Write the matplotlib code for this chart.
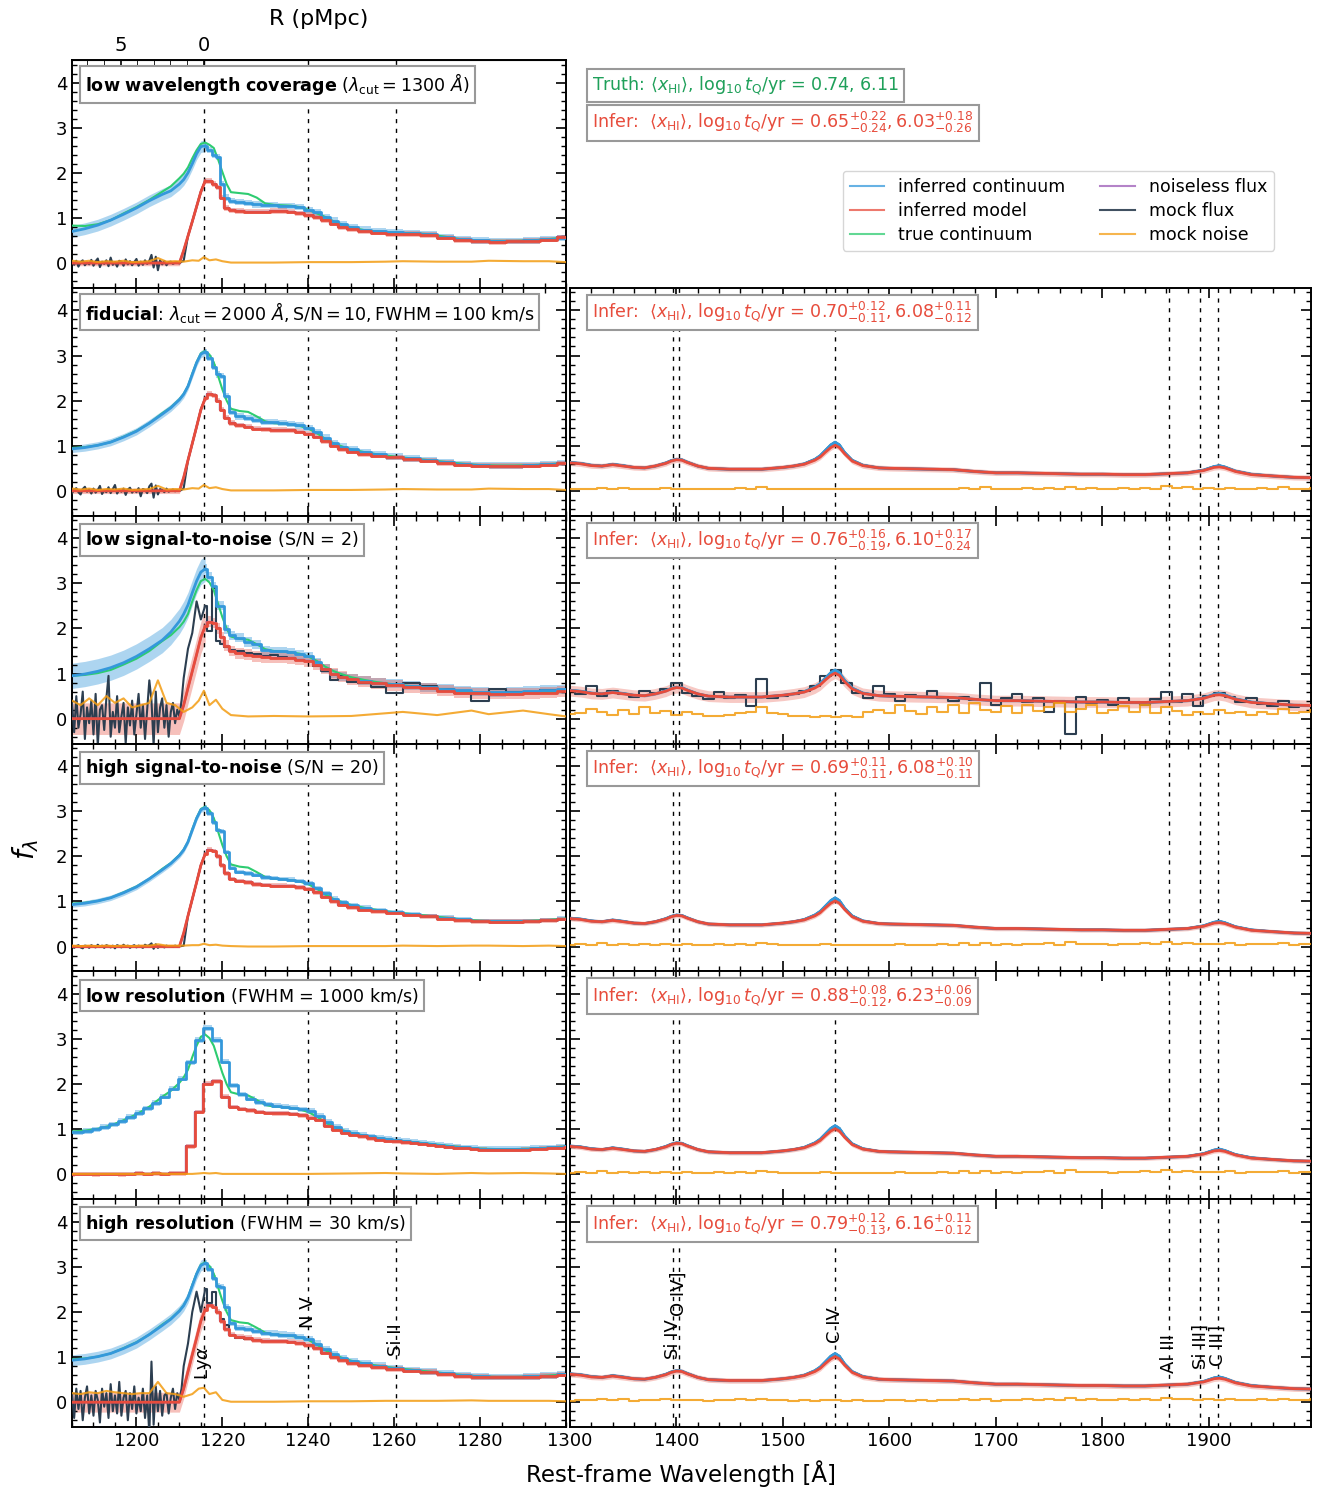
import numpy as np
import matplotlib
matplotlib.use('Agg')
import matplotlib.pyplot as plt
from matplotlib.lines import Line2D
from matplotlib.ticker import MultipleLocator, FixedLocator

# ---------------------------------------------------------------- colours
C_INF = '#3498db'      # inferred continuum
C_MOD = '#e74c3c'      # inferred model
C_TRUE = '#2ecc71'     # true continuum
C_NL = '#9b59b6'       # noiseless flux
C_MOCK = '#2c3e50'     # mock flux
C_NOISE = '#f39c12'    # mock noise
C_TRUTH_TXT = '#1fa05a'

# ---------------------------------------------------------------- data: left (Lya) side
wl_L = [1185, 1188, 1191, 1194, 1197, 1200, 1203, 1206, 1208, 1210,
        1211, 1212, 1213, 1214, 1215, 1216, 1217, 1218, 1219, 1220, 1221, 1222,
        1224, 1226, 1228, 1230, 1232, 1234, 1236, 1238, 1240, 1242, 1244, 1246, 1248, 1250,
        1253, 1256,
        1260, 1264, 1268, 1272, 1276, 1280, 1284, 1288, 1292, 1296, 1300]

# true quasar continuum, rows 2-6
true_cont_L = [0.95, 0.97, 1.01, 1.08, 1.20, 1.33, 1.50, 1.72, 1.85, 2.03,
               2.15, 2.32, 2.60, 2.85, 3.05, 3.10, 3.02, 2.85, 2.55, 2.25, 2.00, 1.82,
               1.77, 1.75, 1.65, 1.54, 1.50, 1.49, 1.47, 1.44, 1.38, 1.28, 1.15, 1.05, 0.98, 0.92,
               0.86, 0.81,
               0.76, 0.72, 0.68, 0.64, 0.60, 0.57, 0.56, 0.56, 0.57, 0.59, 0.62]
# inferred continuum, rows 2, 4, 6
inf_cont_L = [0.93, 0.96, 1.01, 1.08, 1.19, 1.32, 1.50, 1.70, 1.84, 2.02,
              2.14, 2.32, 2.58, 2.84, 3.03, 3.08, 2.95, 2.75, 2.58, 2.55, 2.10, 1.75,
              1.65, 1.62, 1.58, 1.53, 1.52, 1.50, 1.48, 1.45, 1.40, 1.30, 1.18, 1.06, 0.98, 0.92,
              0.86, 0.81,
              0.76, 0.72, 0.68, 0.64, 0.60, 0.57, 0.56, 0.56, 0.57, 0.59, 0.62]
# inferred model (= continuum x transmission), rows 2, 3, 4, 6
model_L = [0, 0, 0, 0, 0, 0, 0, 0, 0, 0,
           0.30, 0.68, 1.05, 1.42, 1.80, 2.05, 2.15, 2.12, 2.00, 1.80, 1.62, 1.50,
           1.45, 1.42, 1.38, 1.36, 1.35, 1.35, 1.34, 1.31, 1.27, 1.20, 1.10, 1.00, 0.93, 0.87,
           0.82, 0.78,
           0.74, 0.70, 0.67, 0.62, 0.58, 0.56, 0.55, 0.55, 0.56, 0.58, 0.61]

# row 1 (different mock quasar)
true_cont_r1 = [0.83, 0.82, 0.86, 0.95, 1.10, 1.24, 1.40, 1.58, 1.70, 1.88,
                1.98, 2.12, 2.32, 2.50, 2.64, 2.67, 2.62, 2.55, 2.30, 2.02, 1.75, 1.57,
                1.55, 1.53, 1.45, 1.32, 1.29, 1.28, 1.27, 1.24, 1.18, 1.10, 1.02, 0.92, 0.85, 0.79,
                0.73, 0.70,
                0.67, 0.66, 0.64, 0.58, 0.52, 0.49, 0.49, 0.49, 0.50, 0.53, 0.57]
inf_cont_r1 = [0.70, 0.76, 0.84, 0.95, 1.08, 1.22, 1.38, 1.52, 1.60, 1.75,
               1.85, 2.00, 2.20, 2.42, 2.58, 2.60, 2.50, 2.40, 2.35, 1.75, 1.45, 1.38,
               1.35, 1.33, 1.30, 1.28, 1.28, 1.27, 1.27, 1.24, 1.18, 1.12, 1.02, 0.94, 0.86, 0.80,
               0.74, 0.71,
               0.68, 0.66, 0.64, 0.58, 0.53, 0.50, 0.49, 0.49, 0.50, 0.53, 0.56]
model_r1 = [0, 0, 0, 0, 0, 0, 0, 0, 0, 0,
            0.28, 0.60, 0.92, 1.25, 1.58, 1.82, 1.82, 1.75, 1.68, 1.45, 1.22, 1.17,
            1.15, 1.14, 1.14, 1.14, 1.15, 1.15, 1.14, 1.10, 1.06, 1.02, 0.95, 0.87, 0.80, 0.75,
            0.70, 0.67,
            0.64, 0.64, 0.62, 0.56, 0.51, 0.48, 0.47, 0.48, 0.49, 0.52, 0.57]

# row 3 (S/N = 2) inferred continuum
inf_cont_r3 = [0.95, 0.99, 1.05, 1.13, 1.24, 1.38, 1.55, 1.74, 1.92, 2.16,
               2.32, 2.52, 2.79, 3.05, 3.25, 3.32, 3.15, 2.94, 2.50, 2.50, 1.98, 1.85,
               1.79, 1.70, 1.65, 1.52, 1.49, 1.49, 1.47, 1.43, 1.38, 1.25, 1.11, 1.00, 0.93, 0.88,
               0.84, 0.80,
               0.77, 0.73, 0.70, 0.66, 0.63, 0.60, 0.59, 0.60, 0.62, 0.64, 0.65]

# row 5 (low resolution) is binned on a coarse pixel grid
wl_lowres = np.arange(1184.6, 1301.0, 2.0)
inf_cont_r5 = [0.93, 0.94, 0.96, 1.00, 1.05, 1.11, 1.18, 1.27, 1.36, 1.46,
               1.58, 1.72, 1.90, 2.12, 2.48, 2.98, 3.24, 2.98, 2.50, 1.97,
               1.77, 1.68, 1.60, 1.55, 1.52, 1.50, 1.48, 1.44, 1.40, 1.30,
               1.16, 1.05, 0.97, 0.92, 0.88, 0.84, 0.81, 0.78, 0.76, 0.74,
               0.72, 0.70, 0.68, 0.66, 0.63, 0.61, 0.60, 0.58, 0.57, 0.56,
               0.56, 0.56, 0.56, 0.57, 0.58, 0.59, 0.60, 0.61, 0.62]
model_r5 = [0.00, 0.01, 0.01, 0.00, 0.01, 0.01, 0.00, 0.01, 0.02, 0.01,
            0.02, 0.01, 0.02, 0.02, 0.62, 1.38, 2.01, 2.06, 1.72, 1.49,
            1.45, 1.42, 1.38, 1.36, 1.35, 1.35, 1.34, 1.31, 1.26, 1.20,
            1.08, 0.98, 0.92, 0.88, 0.84, 0.80, 0.77, 0.75, 0.73, 0.71,
            0.69, 0.67, 0.65, 0.63, 0.61, 0.59, 0.58, 0.56, 0.55, 0.54,
            0.54, 0.54, 0.54, 0.55, 0.56, 0.57, 0.58, 0.59, 0.60]

# mock flux blueward of Lya (0.5 A pixels, 1185-1211 A)
wl_fine = np.arange(1185.0, 1211.1, 0.5)
mock_blue_r1 = [0.03, -0.04, 0.05, -0.08, 0.02, 0.06, -0.05, 0.01, -0.03, 0.07,
                -0.06, 0.04, 0.10, -0.09, 0.03, -0.02, 0.06, -0.07, 0.12, -0.04,
                0.02, -0.08, 0.05, 0.03, -0.06, 0.08, -0.03, 0.04, -0.05, 0.02,
                0.09, -0.06, 0.03, -0.04, 0.06, -0.02, 0.05, 0.18, -0.10, 0.14,
                -0.16, 0.06, -0.03, 0.04, -0.05, 0.02, 0.03, -0.02, 0.01, 0.02,
                -0.01, 0.03, 0.05]
mock_blue_r2 = [-0.05, 0.02, 0.06, -0.03, -0.08, 0.04, 0.09, -0.02, 0.03, -0.06,
                0.05, -0.04, 0.02, 0.11, -0.07, 0.01, -0.03, 0.08, -0.05, 0.04,
                0.13, -0.06, 0.02, -0.02, 0.05, -0.09, 0.03, 0.07, -0.04, 0.02,
                -0.03, 0.06, -0.12, 0.04, 0.02, -0.05, 0.10, 0.16, -0.15, 0.12,
                -0.08, 0.04, 0.02, -0.03, 0.05, -0.02, 0.01, 0.03, -0.01, 0.02,
                0.00, 0.02, 0.06]
mock_blue_r3 = [0.35, -0.30, 0.50, -0.20, 0.10, 0.60, -0.45, 0.25, -0.10, 0.40,
                -0.35, 0.55, -0.60, 0.20, 0.30, -0.25, 0.45, 0.95, -0.40, 0.15,
                -0.20, 0.50, -0.30, 0.05, 0.35, -0.55, 0.25, -0.15, 0.40, -0.35,
                0.10, 0.55, -0.20, 0.30, -0.45, 0.20, 0.85, 0.40, -0.60, 0.60,
                -0.30, 0.25, 0.45, -0.20, 0.30, -0.40, 0.15, 0.35, -0.10, 0.20,
                0.05, 0.40, 0.90]
mock_blue_r4 = [0.02, -0.03, 0.01, 0.03, -0.02, -0.04, 0.02, 0.01, -0.03, 0.03,
                0.00, -0.02, 0.04, -0.01, 0.02, -0.03, 0.03, 0.01, -0.02, 0.02,
                -0.04, 0.03, 0.01, -0.02, 0.04, -0.01, 0.02, -0.03, 0.01, 0.03,
                -0.02, 0.02, 0.00, -0.03, 0.04, 0.01, 0.03, 0.07, -0.05, 0.05,
                -0.03, 0.02, 0.01, -0.02, 0.02, 0.00, 0.01, -0.01, 0.02, 0.00,
                0.01, 0.01, 0.02]
mock_blue_r6 = [0.20, -0.35, 0.30, -0.15, 0.25, -0.40, 0.10, 0.35, -0.25, 0.15,
                -0.30, 0.25, 0.05, -0.45, 0.30, -0.10, 0.20, -0.35, 0.40, -0.20,
                0.15, -0.25, 0.45, -0.30, 0.10, 0.25, -0.40, 0.20, -0.15, 0.35,
                -0.25, 0.10, -0.20, 0.30, -0.35, 0.15, -0.70, 0.90, -0.50, 0.35,
                -0.20, 0.25, -0.30, 0.15, 0.20, -0.25, 0.10, 0.30, -0.15, 0.20,
                0.05, 0.30, 0.80]
# noisy mock flux redward (wl_L from 1212 A) for the noisiest rows
mock_red_r3 = [1.55, 1.90, 2.60, 2.20, 2.50, 1.95, 2.90, 1.72, 1.65, 1.60, 1.52,
               1.50, 1.45, 1.43, 1.40, 1.42, 1.36, 1.35, 1.30, 1.28, 1.17, 1.05, 0.85, 0.95, 0.82,
               0.78, 0.70,
               0.56, 0.80, 0.72, 0.66, 0.56, 0.40, 0.66, 0.60, 0.57, 0.63, 0.64]
mock_red_r6 = [1.30, 2.00, 2.45, 2.00, 2.50, 2.20, 2.45, 2.00, 1.85, 1.70, 1.50,
               1.43, 1.40, 1.38, 1.36, 1.36, 1.35, 1.34, 1.31, 1.27, 1.20, 1.10, 1.00, 0.93, 0.87,
               0.82, 0.78,
               0.74, 0.70, 0.67, 0.62, 0.58, 0.56, 0.55, 0.55, 0.56, 0.58, 0.61]

# mock noise (1 sigma) on the left side
wl_N = [1185, 1187, 1189, 1191, 1193, 1195, 1197, 1199, 1201, 1203,
        1205, 1207, 1209, 1211, 1213, 1214.5, 1215.7, 1217, 1218.5, 1220,
        1222, 1226, 1232, 1240, 1250, 1258, 1262, 1270, 1278, 1282,
        1290, 1296, 1300]
noise_sn10 = [0.05, 0.03, 0.05, 0.02, 0.04, 0.03, 0.05, 0.02, 0.03, 0.04,
              0.11, 0.03, 0.04, 0.03, 0.06, 0.05, 0.13, 0.06, 0.08, 0.04,
              0.01, 0.01, 0.01, 0.02, 0.02, 0.03, 0.04, 0.03, 0.03, 0.05,
              0.04, 0.04, 0.02]
noise_sn2 = [0.40, 0.30, 0.45, 0.30, 0.50, 0.35, 0.45, 0.25, 0.30, 0.35,
             0.85, 0.35, 0.30, 0.15, 0.25, 0.40, 0.62, 0.30, 0.42, 0.22,
             0.08, 0.05, 0.06, 0.05, 0.06, 0.12, 0.15, 0.08, 0.18, 0.10,
             0.18, 0.10, 0.05]
noise_sn20 = [0.02, 0.01, 0.02, 0.01, 0.02, 0.01, 0.02, 0.01, 0.02, 0.02,
              0.05, 0.02, 0.02, 0.02, 0.03, 0.03, 0.06, 0.03, 0.04, 0.02,
              0.01, 0.00, 0.00, 0.01, 0.01, 0.01, 0.02, 0.01, 0.02, 0.02,
              0.01, 0.02, 0.01]
noise_lowres = [0.01, 0.01, 0.01, 0.01, 0.01, 0.01, 0.01, 0.01, 0.01, 0.01,
                0.02, 0.01, 0.01, 0.01, 0.01, 0.02, 0.03, 0.02, 0.03, 0.01,
                0.01, 0.01, 0.01, 0.01, 0.02, 0.03, 0.02, 0.01, 0.03, 0.02,
                0.03, 0.02, 0.01]
noise_hires = [0.20, 0.18, 0.22, 0.20, 0.25, 0.22, 0.20, 0.18, 0.20, 0.20,
               0.45, 0.20, 0.18, 0.12, 0.18, 0.30, 0.32, 0.18, 0.22, 0.05,
               0.01, 0.01, 0.01, 0.02, 0.02, 0.03, 0.03, 0.03, 0.04, 0.03,
               0.03, 0.03, 0.02]

# ---------------------------------------------------------------- data: right (metal lines) side
wl_R = [1300, 1310, 1320, 1330, 1340, 1350, 1360, 1370, 1380, 1390,
        1395, 1400, 1405, 1410, 1420, 1430, 1440, 1450, 1460, 1470,
        1480, 1490, 1500, 1510, 1520, 1530, 1535, 1540, 1545, 1549,
        1553, 1558, 1565, 1575, 1590, 1600, 1620, 1640, 1660, 1680,
        1700, 1720, 1740, 1760, 1780, 1800, 1820, 1840, 1860, 1880,
        1895, 1905, 1910, 1915, 1925, 1940, 1960, 1980, 2000]
cont_R = [0.63, 0.61, 0.57, 0.55, 0.59, 0.56, 0.52, 0.51, 0.55, 0.62,
          0.67, 0.70, 0.69, 0.64, 0.55, 0.50, 0.49, 0.48, 0.48, 0.48,
          0.48, 0.50, 0.52, 0.55, 0.60, 0.70, 0.78, 0.90, 1.02, 1.08,
          1.02, 0.85, 0.68, 0.57, 0.51, 0.50, 0.49, 0.48, 0.47, 0.43,
          0.40, 0.40, 0.39, 0.38, 0.37, 0.37, 0.36, 0.36, 0.38, 0.40,
          0.46, 0.54, 0.56, 0.53, 0.44, 0.37, 0.33, 0.30, 0.29]
model_R = [0.62, 0.60, 0.56, 0.55, 0.58, 0.55, 0.52, 0.51, 0.55, 0.61,
           0.66, 0.69, 0.68, 0.63, 0.55, 0.50, 0.49, 0.48, 0.48, 0.48,
           0.48, 0.50, 0.52, 0.55, 0.59, 0.68, 0.75, 0.86, 0.96, 1.01,
           0.96, 0.82, 0.66, 0.56, 0.51, 0.50, 0.49, 0.48, 0.47, 0.43,
           0.40, 0.40, 0.39, 0.38, 0.37, 0.37, 0.36, 0.36, 0.38, 0.40,
           0.45, 0.52, 0.53, 0.51, 0.43, 0.36, 0.33, 0.30, 0.29]
wl_R10 = np.arange(1300, 2001, 10)
mock_R_r3 = [0.62, 0.55, 0.72, 0.50, 0.62, 0.55, 0.48, 0.62, 0.58, 0.66,
             0.78, 0.58, 0.50, 0.44, 0.60, 0.45, 0.52, 0.28, 0.88, 0.46,
             0.50, 0.55, 0.62, 0.72, 0.95, 1.08, 0.80, 0.58, 0.45, 0.72,
             0.55, 0.40, 0.52, 0.48, 0.62, 0.46, 0.40, 0.48, 0.42, 0.80,
             0.30, 0.45, 0.55, 0.38, 0.46, 0.15, 0.40, -0.35, 0.48, 0.35,
             0.42, 0.30, 0.45, 0.38, 0.30, 0.44, 0.60, 0.36, 0.55, 0.28,
             0.50, 0.56, 0.48, 0.38, 0.45, 0.32, 0.28, 0.40, 0.25, 0.30, 0.28]
noise_R = [0.03, 0.05, 0.04, 0.07, 0.04, 0.06, 0.03, 0.05, 0.04, 0.06,
           0.04, 0.05, 0.04, 0.03, 0.05, 0.04, 0.06, 0.04, 0.08, 0.05,
           0.04, 0.03, 0.04, 0.03, 0.05, 0.04, 0.03, 0.04, 0.03, 0.03,
           0.04, 0.05, 0.03, 0.04, 0.03, 0.05, 0.04, 0.07, 0.04, 0.08,
           0.03, 0.05, 0.04, 0.06, 0.05, 0.07, 0.04, 0.09, 0.05, 0.06,
           0.05, 0.04, 0.06, 0.05, 0.07, 0.05, 0.10, 0.06, 0.08, 0.05,
           0.06, 0.05, 0.07, 0.04, 0.05, 0.06, 0.05, 0.08, 0.04, 0.05, 0.06]
noise_R_r3 = [0.10, 0.12, 0.22, 0.15, 0.08, 0.20, 0.10, 0.25, 0.12, 0.18,
              0.08, 0.15, 0.10, 0.05, 0.06, 0.08, 0.12, 0.15, 0.25, 0.12,
              0.10, 0.06, 0.05, 0.04, 0.05, 0.04, 0.05, 0.03, 0.15, 0.20,
              0.12, 0.30, 0.18, 0.10, 0.25, 0.15, 0.30, 0.12, 0.35, 0.20,
              0.15, 0.28, 0.12, 0.30, 0.18, 0.25, 0.35, 0.15, 0.22, 0.30,
              0.12, 0.20, 0.28, 0.15, 0.30, 0.12, 0.25, 0.18, 0.08, 0.15,
              0.10, 0.20, 0.12, 0.15, 0.08, 0.14, 0.10, 0.22, 0.12, 0.15, 0.20]

# 1-sigma widths of the shaded posterior bands (blueward / redward of Lya)
cont_sig_blue = [0.13, 0.08, 0.28, 0.06, 0.06, 0.12]
cont_sig_red = [0.07, 0.07, 0.10, 0.05, 0.06, 0.07]
model_sig_blue = [0.06, 0.06, 0.35, 0.03, 0.02, 0.22]
model_sig_red = [0.06, 0.06, 0.12, 0.05, 0.05, 0.06]

# posterior summaries
truth_xhi, truth_tq = 0.74, 6.11
xhi_med = [0.65, 0.70, 0.76, 0.69, 0.88, 0.79]
xhi_up = [0.22, 0.12, 0.16, 0.11, 0.08, 0.12]
xhi_lo = [0.24, 0.11, 0.19, 0.11, 0.12, 0.13]
tq_med = [6.03, 6.08, 6.10, 6.08, 6.23, 6.16]
tq_up = [0.18, 0.11, 0.17, 0.10, 0.06, 0.11]
tq_lo = [0.26, 0.12, 0.24, 0.11, 0.09, 0.12]

row_labels = [
    r'$\mathbf{low\ wavelength\ coverage}$ ($\lambda_{\rm cut} = 1300\ Å$)',
    r'$\mathbf{fiducial}$: $\lambda_{\rm cut} = 2000\ Å, \mathrm{S/N} = 10, \mathrm{FWHM} = 100$ km/s',
    r'$\mathbf{low\ signal‐to‐noise}$ (S/N = 2)',
    r'$\mathbf{high\ signal‐to‐noise}$ (S/N = 20)',
    r'$\mathbf{low\ resolution}$ (FWHM = 1000 km/s)',
    r'$\mathbf{high\ resolution}$ (FWHM = 30 km/s)',
]

# emission lines
lines_L = [1215.67, 1240.0, 1260.42]
names_L = [r'Ly$\alpha$', 'N V', 'Si II']
lines_R = [1396.76, 1402.06, 1549.06, 1862.79, 1892.03, 1908.73]
names_R = ['Si IV', 'O IV]', 'C IV', 'Al III', 'Si III]', 'C III]']
label_y_L = [0.50, 1.65, 1.03]
label_y_R = [0.96, 1.92, 1.32, 0.65, 0.74, 0.80]

# per-row table built from the arrays above
rows = [
    dict(wl=wl_L, cont=inf_cont_r1, true=true_cont_r1, model=model_r1,
         mock_blue=mock_blue_r1, mock_red=model_r1[11:], noise=noise_sn10),
    dict(wl=wl_L, cont=inf_cont_L, true=true_cont_L, model=model_L,
         mock_blue=mock_blue_r2, mock_red=model_L[11:], noise=noise_sn10),
    dict(wl=wl_L, cont=inf_cont_r3, true=true_cont_L, model=model_L,
         mock_blue=mock_blue_r3, mock_red=mock_red_r3, noise=noise_sn2),
    dict(wl=wl_L, cont=inf_cont_L, true=true_cont_L, model=model_L,
         mock_blue=mock_blue_r4, mock_red=model_L[11:], noise=noise_sn20),
    dict(wl=wl_lowres, cont=inf_cont_r5, true=true_cont_L, model=model_r5,
         mock_blue=None, mock_red=None, noise=noise_lowres),
    dict(wl=wl_L, cont=inf_cont_L, true=true_cont_L, model=model_L,
         mock_blue=mock_blue_r6, mock_red=mock_red_r6, noise=noise_hires),
]

LYA = 1215.67
EDGE = 1216.0     # spectrum drawn as pixel steps redward of this
FS = 12.6


def split_line(ax, x, y, edge, **kw):
    x = np.asarray(x, float)
    y = np.asarray(y, float)
    b = x <= edge
    r = x >= edge
    if b.any():
        ax.plot(x[b], y[b], **kw)
    ax.plot(x[r], y[r], drawstyle='steps-mid', **kw)


def split_band(ax, x, y, sb, sr, edge, color, alpha):
    x = np.asarray(x, float)
    y = np.asarray(y, float)
    b = x <= edge
    r = x >= edge
    if b.any():
        ax.fill_between(x[b], y[b] - sb, y[b] + sb, color=color, alpha=alpha, lw=0)
    ax.fill_between(x[r], y[r] - sr, y[r] + sr, step='mid', color=color, alpha=alpha, lw=0)


def style_axis(ax):
    ax.set_ylim(-0.55, 4.5)
    ax.yaxis.set_major_locator(FixedLocator([0, 1, 2, 3, 4]))
    ax.yaxis.set_minor_locator(MultipleLocator(0.2))
    ax.tick_params(which='both', direction='in', top=True, right=True, labelsize=13)
    ax.tick_params(which='major', length=7, width=1.2)
    ax.tick_params(which='minor', length=3.5, width=1.0)
    for s in ax.spines.values():
        s.set_linewidth(1.4)


def infer_text(i):
    return (r'Infer:  $\langle x_{\rm HI}\rangle$, $\log_{10} t_{\rm Q}/{\rm yr}$ = '
            r'$%.2f^{+%.2f}_{-%.2f}, %.2f^{+%.2f}_{-%.2f}$'
            % (xhi_med[i], xhi_up[i], xhi_lo[i], tq_med[i], tq_up[i], tq_lo[i]))


W, H = 1325, 1490
fig = plt.figure(figsize=(W / 100, H / 100), dpi=100)

top_px, bot_px = 60, 1427
row_h = (bot_px - top_px) / 6
lx0, lx1 = 72, 566
rx0, rx1 = 570, 1311
box = dict(boxstyle='square,pad=0.3', fc='white', ec='#999999', lw=1.5)

for i, row in enumerate(rows):
    y_top = top_px + i * row_h
    yb = 1 - (y_top + row_h) / H
    axL = fig.add_axes([lx0 / W, yb, (lx1 - lx0) / W, row_h / H])
    axR = fig.add_axes([rx0 / W, yb, (rx1 - rx0) / W, row_h / H])

    # ---------------- left panel: Lya region
    edge = 1180.0 if row['wl'] is wl_lowres else EDGE
    wl = np.asarray(row['wl'], float)
    split_band(axL, wl, row['cont'], cont_sig_blue[i], cont_sig_red[i], edge, C_INF, 0.4)
    split_band(axL, wl, row['model'], model_sig_blue[i], model_sig_red[i], edge, C_MOD, 0.35)
    if row['mock_blue'] is not None:
        xm = np.concatenate([wl_fine, np.asarray(wl_L[11:], float)])
        ym = np.concatenate([row['mock_blue'], row['mock_red']])
        split_line(axL, xm, ym, EDGE, color=C_MOCK, lw=1.5, zorder=3)
    else:
        split_line(axL, wl, row['model'], edge, color=C_MOCK, lw=1.5, zorder=3)
    split_line(axL, wl, row['model'], edge, color=C_NL, lw=1.6, zorder=3.5)
    axL.plot(wl_L, row['true'], color=C_TRUE, lw=1.5, zorder=4)
    split_line(axL, wl, row['cont'], edge, color=C_INF, lw=2.0, zorder=4.5)
    split_line(axL, wl, row['model'], edge, color=C_MOD, lw=2.0, zorder=5)
    axL.plot(wl_N, row['noise'], color=C_NOISE, lw=1.5, alpha=0.85, zorder=6)

    for lw_ in lines_L:
        axL.axvline(lw_, color='k', ls=(0, (3, 4)), lw=1.0, zorder=1)

    axL.set_xlim(1185, 1300)
    axL.set_xticks([1200, 1220, 1240, 1260, 1280])
    axL.xaxis.set_minor_locator(MultipleLocator(5))
    style_axis(axL)
    axL.text(0.026, 0.893, row_labels[i], transform=axL.transAxes, fontsize=FS,
             ha='left', va='center', bbox=box, zorder=10)

    if i < 5:
        axL.tick_params(labelbottom=False)

    if i == 0:
        axL.tick_params(which='both', top=False)
        sec = axL.secondary_xaxis('top', functions=(lambda l: (LYA - l) / 3.87,
                                                    lambda r: LYA - 3.87 * r))
        sec.set_xticks([0, 5])
        sec.xaxis.set_minor_locator(FixedLocator([1, 2, 3, 4, 6, 7]))
        sec.tick_params(which='both', direction='in', labelsize=14)
        sec.tick_params(which='major', length=7, width=1.2)
        sec.tick_params(which='minor', length=3.5)
        sec.set_xlabel('R (pMpc)', fontsize=16, labelpad=8)

        # top-right: summary text and legend only
        axR.axis('off')
        axR.set_xlim(0, 1)
        axR.set_ylim(0, 1)
        axR.text(0.030, 0.887,
                 r'Truth: $\langle x_{\rm HI}\rangle$, $\log_{10} t_{\rm Q}/{\rm yr}$ = %.2f, %.2f'
                 % (truth_xhi, truth_tq),
                 transform=axR.transAxes, fontsize=FS, color=C_TRUTH_TXT,
                 ha='left', va='center', bbox=box)
        axR.text(0.030, 0.724, infer_text(i), transform=axR.transAxes, fontsize=FS,
                 color=C_MOD, ha='left', va='center', bbox=box)
        handles = [Line2D([], [], color=C_INF, lw=1.5, alpha=0.75),
                   Line2D([], [], color=C_MOD, lw=1.5, alpha=0.75),
                   Line2D([], [], color=C_TRUE, lw=1.5, alpha=0.75),
                   Line2D([], [], color=C_NL, lw=1.5, alpha=0.75),
                   Line2D([], [], color=C_MOCK, lw=1.5, alpha=0.9),
                   Line2D([], [], color=C_NOISE, lw=1.5, alpha=0.75)]
        names = ['inferred continuum', 'inferred model', 'true continuum',
                 'noiseless flux', 'mock flux', 'mock noise']
        axR.legend(handles, names, ncol=2, fontsize=12.5, loc='upper left',
                   bbox_to_anchor=(0.368, 0.514), borderaxespad=0.0, frameon=True,
                   edgecolor='#cccccc', handlelength=2.0, columnspacing=2.0,
                   borderpad=0.4, labelspacing=0.35)
        continue

    # ---------------- right panel: metal lines
    axR.fill_between(wl_R, np.asarray(cont_R) - 0.03, np.asarray(cont_R) + 0.03,
                     color=C_INF, alpha=0.4, lw=0)
    axR.fill_between(wl_R, np.asarray(model_R) - model_sig_red[i],
                     np.asarray(model_R) + model_sig_red[i], color=C_MOD, alpha=0.3, lw=0)
    if i == 2:
        axR.plot(wl_R10, mock_R_r3, color=C_MOCK, lw=1.5, drawstyle='steps-mid', zorder=3)
        axR.plot(wl_R10, noise_R_r3, color=C_NOISE, lw=1.5, alpha=0.85,
                 drawstyle='steps-mid', zorder=6)
    else:
        axR.plot(wl_R, cont_R, color=C_MOCK, lw=1.5, zorder=3)
        axR.plot(wl_R10, noise_R, color=C_NOISE, lw=1.5, alpha=0.85,
                 drawstyle='steps-mid', zorder=6)
    axR.plot(wl_R, cont_R, color=C_NL, lw=1.6, zorder=3.5)
    axR.plot(wl_R, cont_R, color=C_TRUE, lw=1.5, zorder=4)
    axR.plot(wl_R, cont_R, color=C_INF, lw=2.0, zorder=4.5)
    axR.plot(wl_R, model_R, color=C_MOD, lw=2.0, zorder=5)

    for lw_ in lines_R:
        axR.axvline(lw_, color='k', ls=(0, (3, 4)), lw=1.0, zorder=1)

    axR.set_xlim(1300, 1996)
    axR.xaxis.set_major_locator(MultipleLocator(100))
    axR.xaxis.set_minor_locator(MultipleLocator(20))
    style_axis(axR)
    axR.tick_params(labelleft=False)
    axR.text(0.030, 0.891, infer_text(i), transform=axR.transAxes, fontsize=FS,
             color=C_MOD, ha='left', va='center', bbox=box, zorder=10)

    if i < 5:
        axR.tick_params(labelbottom=False)
    else:
        for x, n, yy in zip(lines_L, names_L, label_y_L):
            axL.text(x, yy, n, rotation=90, ha='center', va='bottom', fontsize=13, zorder=7)
        for x, n, yy in zip(lines_R, names_R, label_y_R):
            axR.text(x, yy, n, rotation=90, ha='center', va='bottom', fontsize=13, zorder=7)

fig.text(0.514, 0.002, 'Rest-frame Wavelength [Å]', ha='center', va='bottom', fontsize=16.5)
fig.text(0.019, 0.43, r'$f_\lambda$', rotation=90, ha='center', va='center', fontsize=20)

fig.savefig('out.png', dpi=100)
